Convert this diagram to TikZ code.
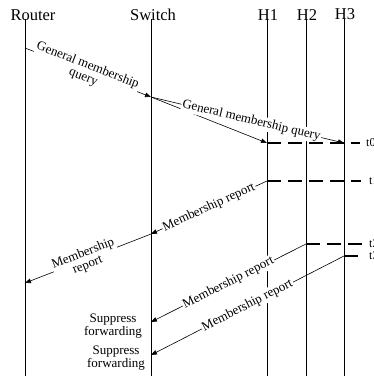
\documentclass[tikz,border=0pt]{standalone}
\usepackage{fontspec}
\setmainfont{Liberation Serif}
\usetikzlibrary{arrows.meta}

\begin{document}
\begin{tikzpicture}[x=1pt,y=-1pt,
  hdr/.style={anchor=base,inner sep=0pt,font=\fontsize{16.5}{18}\selectfont},
  life/.style={line width=0.9pt},
  msg/.style={line width=0.6pt,-{Triangle[length=6pt,width=4.5pt]}},
  lbl/.style={sloped,fill=white,inner sep=1pt,align=center,font=\fontsize{13}{12.5}\selectfont},
  note/.style={align=center,inner sep=0pt,font=\fontsize{13}{12.5}\selectfont},
  tmark/.style={line width=2.6pt,dash pattern=on 14pt off 7pt},
  tlbl/.style={anchor=west,inner sep=0pt,font=\fontsize{12}{12}\selectfont}]
\useasboundingbox (0,0) rectangle (374,376);
\node[hdr] (router) at (33,20) {Router};
\node[hdr] (switch) at (153,20) {Switch};
\node[hdr] (hA) at (268,20) {H1};
\node[hdr] (hB) at (307,20) {H2};
\node[hdr] (hC) at (345,19) {H3};
\foreach \x in {25,151,267,306,344} \draw[life] (\x,19) -- (\x,376);

\coordinate (r1) at (25,48);
\coordinate (s1) at (151,97);
\coordinate (a1) at (267,143);
\coordinate (c1) at (344,143);
\coordinate (a2) at (267,181);
\coordinate (s2) at (151,234);
\coordinate (r2) at (25,283);
\coordinate (b3) at (306,244);
\coordinate (s3) at (151,322);
\coordinate (c4) at (344,256);
\coordinate (s4) at (151,355);

\draw[msg] (r1) -- node[lbl,pos=0.48] {General membership\\query} (s1);
\draw[msg] (s1) -- (a1);
\draw[msg] (s1) -- node[lbl,pos=0.52] {General membership query} (c1);
\draw[msg] (a2) -- node[lbl,pos=0.5] {Membership report} (s2);
\draw[msg] (s2) -- node[lbl,pos=0.52] {Membership\\report} (r2);
\draw[msg] (b3) -- node[lbl,pos=0.5] {Membership report} (s3);
\draw[msg] (c4) -- node[lbl,pos=0.5] {Membership report} (s4);

\coordinate (e0) at (360,143);
\coordinate (e1) at (361,181);
\coordinate (e2) at (363,244);
\coordinate (e3) at (363,256);
\draw[tmark] (a1) -- (e0);
\draw[tmark] (a2) -- (e1);
\draw[tmark] (b3) -- (e2);
\draw[tmark] (c4) -- (e3);
\node[tlbl] (t0) at (366,143) {t0};
\node[tlbl] (t1) at (369,181) {t1};
\node[tlbl] (t2) at (369,244) {t2};
\node[tlbl] (t3) at (369,256) {t3};

\node[note] (sup1) at (113,326) {Suppress\\forwarding};
\node[note] (sup2) at (116,358) {Suppress\\forwarding};
\end{tikzpicture}
\end{document}
